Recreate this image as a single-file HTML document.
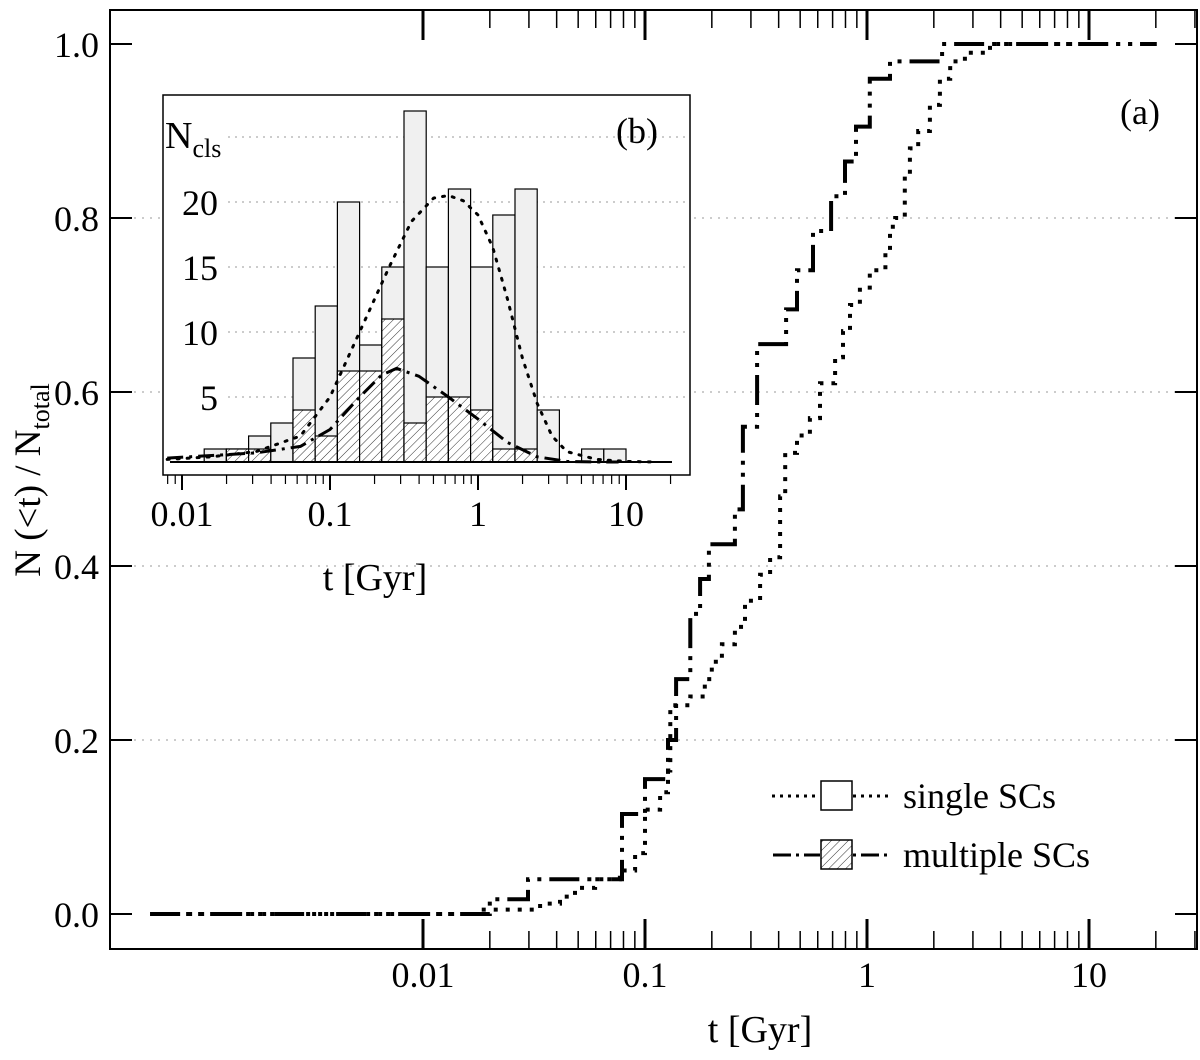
<!DOCTYPE html>
<html><head><meta charset="utf-8">
<style>
html,body{margin:0;padding:0;background:#fff;}
svg{display:block;font-family:"Liberation Serif",serif;}
</style></head>
<body>
<svg id="chart" width="1200" height="1060" viewBox="0 0 1200 1060">
<defs>
<pattern id="hatch" patternUnits="userSpaceOnUse" width="6" height="6" patternTransform="rotate(45)">
<rect width="6" height="6" fill="#fff"/>
<line x1="0" y1="0" x2="0" y2="6" stroke="#333" stroke-width="1"/>
</pattern>
</defs>
<g id="main-grid"></g>
<g id="main-curves"></g>
<rect x="110" y="10" width="1087" height="939" fill="none" stroke="#000" stroke-width="2"/>
<g id="main-ticks"></g>
<g id="main-labels" font-size="36" fill="#000"></g>
<text x="760" y="1042" font-size="38" text-anchor="middle">t [Gyr]</text>
<text transform="translate(40,480) rotate(-90)" font-size="37" text-anchor="middle">N (&lt;t) / N<tspan font-size="26" dy="9">total</tspan></text>
<text x="1140" y="124" font-size="36" text-anchor="middle">(a)</text>
<g>
<g>
<line x1="772" y1="796" x2="820" y2="796" stroke="#000" stroke-width="3" stroke-dasharray="3 5"/>
<rect x="821" y="781" width="31" height="29" fill="#fff" stroke="#000" stroke-width="1.5"/>
<line x1="853" y1="796" x2="892" y2="796" stroke="#000" stroke-width="3" stroke-dasharray="3 5"/>
<text x="903" y="808" font-size="36">single SCs</text>
</g>
<g>
<line x1="773" y1="855" x2="820" y2="855" stroke="#000" stroke-width="3" stroke-dasharray="18 5 3 5"/>
<rect x="821" y="840" width="31" height="29" fill="url(#hatch)" stroke="#000" stroke-width="1.5"/>
<line x1="853" y1="855" x2="892" y2="855" stroke="#000" stroke-width="3" stroke-dasharray="3 5 18 5"/>
<text x="903" y="867" font-size="36">multiple SCs</text>
</g>
</g>
<rect x="163" y="95" width="527" height="380" fill="#fff" stroke="#000" stroke-width="1.5"/>
<g id="inset"></g>
<text x="637" y="143" font-size="36" text-anchor="middle">(b)</text>
<text x="165" y="148" font-size="38">N<tspan font-size="26" dy="9">cls</tspan></text>
<text x="375" y="590" font-size="38" text-anchor="middle">t [Gyr]</text>
</svg>
<script>
// ---- main chart data ----
const multAges = [0.020,0.0297,0.0788,0.100,0.127,0.138,0.160,0.177,0.194,0.254,0.276,0.320,0.432,0.484,0.571,0.689,0.796,0.892,1.03,1.27,2.18];
const multFrac = [0.017,0.040,0.115,0.155,0.200,0.270,0.345,0.385,0.425,0.465,0.560,0.655,0.695,0.740,0.785,0.825,0.865,0.905,0.960,0.980,1.000];
const singleAges = [0.0181,0.0337,0.0414,0.0484,0.0596,0.0771,0.0902,0.100,0.117,0.127,0.130,0.160,0.186,0.200,0.222,0.254,0.282,0.330,0.366,0.406,0.428,0.484,0.553,0.614,0.718,0.780,0.838,0.929,1.03,1.21,1.27,1.34,1.48,1.56,1.70,1.92,2.13,2.37,2.76,3.58];
const singleFrac = [0.005,0.012,0.020,0.030,0.040,0.050,0.070,0.120,0.140,0.165,0.240,0.250,0.270,0.290,0.310,0.330,0.360,0.390,0.410,0.480,0.530,0.550,0.570,0.610,0.640,0.670,0.700,0.720,0.740,0.760,0.790,0.800,0.850,0.880,0.900,0.930,0.960,0.980,0.990,1.000];
const yTicks = [0.0,0.2,0.4,0.6,0.8,1.0];
const yTickLabels = ["0.0","0.2","0.4","0.6","0.8","1.0"];
const xTicks = [0.01,0.1,1,10];
const xTickLabels = ["0.01","0.1","1","10"];
const tStart = 0.00059, tEnd = 20.2;
// ---- inset data ----
const binEdgesLog = [-1.85,-1.70,-1.55,-1.40,-1.25,-1.10,-0.95,-0.80,-0.65,-0.50,-0.35,-0.20,-0.05,0.10,0.25,0.40,0.55,0.70,0.85,1.00];
const binTotal = [1,1,2,3,8,12,20,9,15,27,15,21,15,19,21,4,0,1,1];
const binMultiple = [0,1,1,0,4,2,7,7,11,3,5,5,4,1,1,0,0,0,0];
const fitSingleLog = [-2.1,-1.8,-1.5,-1.2,-1.0,-0.8,-0.6,-0.45,-0.3,-0.2,-0.1,0.0,0.1,0.2,0.3,0.4,0.5,0.6,0.8,1.0,1.2];
const fitSingleN = [0.2,0.4,0.8,2,5,10,15,18.5,20.3,20.5,20.1,19,16.5,12.5,8,4.5,2,0.8,0.2,0.05,0];
const fitMultLog = [-2.1,-1.8,-1.5,-1.2,-1.0,-0.8,-0.65,-0.55,-0.4,-0.2,0.0,0.2,0.4,0.6,0.8,0.95];
const fitMultN = [0.3,0.5,0.7,1.2,2.5,5,6.7,7.2,6.6,5,3.3,1.5,0.4,0.05,0,0];
const insetYTicks = [5,10,15,20];
const insetGrid = [5,10,15,20,25];
const insetXTicks = [0.01,0.1,1,10];
const insetXLabels = ["0.01","0.1","1","10"];

const NS="http://www.w3.org/2000/svg";
function mk(tag,attrs,parent){const e=document.createElementNS(NS,tag);for(const k in attrs)e.setAttribute(k,attrs[k]);parent.appendChild(e);return e;}
const X=t=>867+222*Math.log10(t);
const Y=v=>914-870*v;
const grid=document.getElementById('main-grid');
[0.2,0.4,0.6,0.8].forEach(v=>{
  const l=mk('line',{x1:110,x2:1197,y1:Y(v),y2:Y(v),stroke:'#999','stroke-width':1,'stroke-dasharray':'2 6'},grid);
  
  
});
function stepPath(ages,fr){
  let d=`M${X(tStart)},${Y(0)}`;
  for(let i=0;i<ages.length;i++){d+=` H${X(ages[i]).toFixed(1)} V${Y(fr[i]).toFixed(1)}`;}
  d+=` H${X(tEnd)}`;return d;
}
const curves=document.getElementById('main-curves');
const ps=mk('path',{d:stepPath(singleAges,singleFrac),fill:'none',stroke:'#000','stroke-width':4,'stroke-dasharray':'4 8'},curves);


const pm=mk('path',{d:stepPath(multAges,multFrac),fill:'none',stroke:'#000','stroke-width':4,'stroke-dasharray':'30 8 4 8 4 8'},curves);


const ticks=document.getElementById('main-ticks');
const labels=document.getElementById('main-labels');
for(let d=-2;d<2;d++){for(let m=1;m<10;m++){
  const t=m*Math.pow(10,d);const x=X(t);if(x<112||x>1195)continue;
  const L=m===1?30:18;const w=m===1?3:1.5;
  mk('line',{x1:x,x2:x,y1:949,y2:949-L,stroke:'#000','stroke-width':w},ticks);
  mk('line',{x1:x,x2:x,y1:10,y2:10+L,stroke:'#000','stroke-width':w},ticks);
}}
xTicks.forEach((t,i)=>{
  const tx=mk('text',{x:X(t),y:987,'text-anchor':'middle'},labels);tx.textContent=xTickLabels[i];
  
  
});
yTicks.forEach((v,i)=>{
  mk('line',{x1:110,x2:132,y1:Y(v),y2:Y(v),stroke:'#000','stroke-width':2},ticks);
  mk('line',{x1:1175,x2:1197,y1:Y(v),y2:Y(v),stroke:'#000','stroke-width':2},ticks);
  const tx=mk('text',{x:99,y:Y(v)+13,'text-anchor':'end'},labels);tx.textContent=yTickLabels[i];
  
  
});
const IX=lg=>182+148*(lg+2);
const IY=n=>462-13*n;
const ins=document.getElementById('inset');
insetGrid.forEach(n=>{
  const l=mk('line',{x1:228,x2:688,y1:IY(n),y2:IY(n),stroke:'#999','stroke-width':1,'stroke-dasharray':'2 5'},ins);
  
  
});
for(let i=0;i<binTotal.length;i++){
  const x0=IX(binEdgesLog[i]),x1=IX(binEdgesLog[i+1]);
  if(binTotal[i]>0){
    const r=mk('rect',{x:x0,y:IY(binTotal[i]),width:x1-x0,height:13*binTotal[i],fill:'#f0f0f0',stroke:'#000','stroke-width':1.2},ins);
    
    
  }
  if(binMultiple[i]>0){
    const r=mk('rect',{x:x0,y:IY(binMultiple[i]),width:x1-x0,height:13*binMultiple[i],fill:'url(#hatch)',stroke:'#000','stroke-width':1.2},ins);
    
    
  }
}
mk('line',{x1:170,x2:672,y1:462,y2:462,stroke:'#000','stroke-width':2},ins);
function poly(lg,n){return lg.map((v,i)=>`${IX(v).toFixed(1)},${IY(n[i]).toFixed(1)}`).join(' ');}
const fs=mk('polyline',{points:poly(fitSingleLog,fitSingleN),fill:'none',stroke:'#000','stroke-width':3,'stroke-dasharray':'2 8','stroke-linecap':'round'},ins);


const fm=mk('polyline',{points:poly(fitMultLog,fitMultN),fill:'none',stroke:'#000','stroke-width':3,'stroke-dasharray':'16 6 3 6'},ins);


for(let d=-3;d<2;d++){for(let m=1;m<10;m++){
  const lg=Math.log10(m)+d;const x=IX(lg);if(x<165||x>688)continue;
  const L=m===1?15:9;
  mk('line',{x1:x,x2:x,y1:475,y2:475+L,stroke:'#000','stroke-width':m===1?2:1.2},ins);
}}
insetXTicks.forEach((t,i)=>{
  const tx=mk('text',{x:IX(Math.log10(t)),y:526,'text-anchor':'middle','font-size':36},ins);tx.textContent=insetXLabels[i];
  
  
});
insetYTicks.forEach(n=>{
  const tx=mk('text',{x:218,y:IY(n)+13,'text-anchor':'end','font-size':36},ins);tx.textContent=String(n);
  
  
});
</script>
</body></html>
